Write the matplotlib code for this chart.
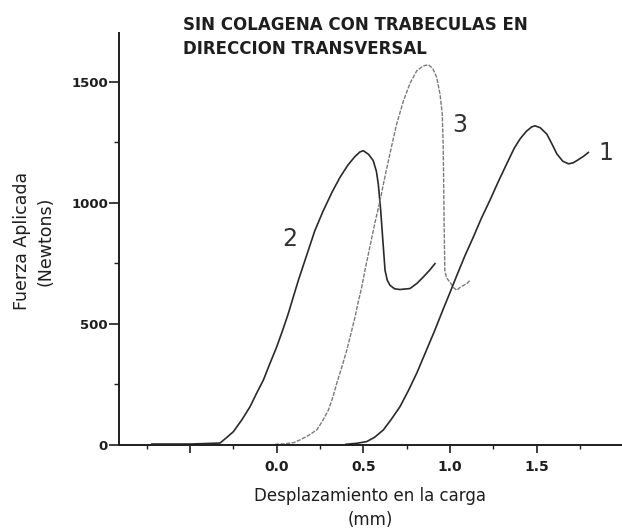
import matplotlib
matplotlib.use("Agg")
import matplotlib.pyplot as plt
import numpy as np

# curve 1 (solid, right)
x1 = [0.40, 0.462, 0.519, 0.565, 0.615, 0.66, 0.711, 0.76, 0.81, 0.86, 0.91, 0.96, 1.0, 1.039,
      1.085, 1.134, 1.18, 1.231, 1.28, 1.327, 1.37, 1.404, 1.44, 1.47, 1.49, 1.52, 1.558, 1.59,
      1.616, 1.65, 1.683, 1.71, 1.731, 1.77, 1.798]
y1 = [3, 7, 14, 32, 62, 105, 158, 225, 300, 385, 470, 560, 630, 700,
      780, 858, 935, 1012, 1090, 1161, 1225, 1264, 1295, 1313, 1318, 1310, 1284, 1240,
      1202, 1172, 1161, 1165, 1174, 1192, 1208]

# curve 2 (solid, left)
x2 = [-0.721, -0.50, -0.327, -0.29, -0.25, -0.20, -0.154, -0.115, -0.077, -0.04, 0.0, 0.035,
      0.067, 0.096, 0.125, 0.155, 0.182, 0.22, 0.269, 0.32, 0.365, 0.41, 0.45, 0.48, 0.50, 0.53,
      0.557, 0.575, 0.586, 0.600, 0.611, 0.625, 0.638, 0.654, 0.68, 0.711, 0.769, 0.81, 0.846,
      0.88, 0.913]
y2 = [4, 4, 8, 30, 55, 105, 158, 215, 268, 335, 405, 475,
      543, 612, 680, 745, 803, 885, 968, 1045, 1105, 1155, 1190, 1210, 1215, 1200,
      1174, 1130, 1078, 968, 858, 721, 680, 659, 645, 642, 646, 668, 694,
      720, 749]

# curve 3 (light, middle)
x3 = [-0.01, 0.05, 0.10, 0.134, 0.18, 0.231, 0.265, 0.298, 0.325, 0.346, 0.375, 0.404, 0.43,
      0.452, 0.47, 0.490, 0.51, 0.538, 0.566, 0.596, 0.625, 0.654, 0.69, 0.731, 0.77, 0.808,
      0.845, 0.875, 0.90, 0.923, 0.942, 0.955, 0.960, 0.963, 0.966, 0.970, 0.98, 1.0, 1.02,
      1.039, 1.06, 1.08, 1.095, 1.115]
y3 = [3, 5, 10, 21, 38, 62, 100, 144, 200, 254, 320, 391, 465,
      529, 590, 650, 725, 820, 915, 1009, 1110, 1205, 1320, 1421, 1495, 1545,
      1565, 1570, 1555, 1518, 1449, 1368, 1250, 1100, 900, 720, 690, 672, 650,
      639, 652, 660, 665, 680]

x_ticks = [-0.5, 0.0, 0.5, 1.0, 1.5]
x_ticklabels = ["", "0.0", "0.5", "1.0", "1.5"]
x_minor = [-0.75, -0.25, 0.25, 0.75, 1.25, 1.75]
y_ticks = [0, 500, 1000, 1500]
y_ticklabels = ["0", "500", "1000", "1500"]
y_minor = [250, 750, 1250]

curve_labels = ["1", "2", "3"]
label_pos = [(1.897, 1205), (0.077, 852), (1.058, 1322)]

ink = "#1e1e1e"

fig = plt.figure(figsize=(6.22, 5.29), dpi=100)
ax = fig.add_axes([0.1921, 0.1588, 0.8079, 0.7783])

ax.plot(x2, y2, color="#2a2a2a", linewidth=1.2)
ax.plot(x3, y3, color="#7a7a7a", linewidth=1.0, linestyle=(0, (3, 1)))
ax.plot(x1, y1, color="#2a2a2a", linewidth=1.2)

for lab, (lx, ly) in zip(curve_labels, label_pos):
    ax.text(lx, ly, lab, fontsize=17, color="#333333", ha="center", va="center")

ax.set_xlim(-0.907, 1.992)
ax.set_ylim(0, 1700)

for s in ["top", "right"]:
    ax.spines[s].set_visible(False)
for s in ["left", "bottom"]:
    ax.spines[s].set_linewidth(1.4)
    ax.spines[s].set_color(ink)

ax.set_xticks(x_ticks)
ax.set_xticklabels(x_ticklabels, fontsize=10, fontweight="bold", color=ink)
ax.set_xticks(x_minor, minor=True)
ax.set_yticks(y_ticks)
ax.set_yticklabels(y_ticklabels, fontsize=9.5, fontweight="bold", color=ink)
ax.set_yticks(y_minor, minor=True)

ax.tick_params(axis="x", which="major", direction="out", length=5.8, width=1.2, pad=5, colors=ink)
ax.tick_params(axis="x", which="minor", direction="out", length=2.9, width=1.0, colors=ink)
ax.tick_params(axis="y", which="major", direction="out", length=7.2, width=1.2, pad=1, colors=ink)
ax.tick_params(axis="y", which="minor", direction="out", length=3.6, width=1.0, colors=ink)

fig.text(183 / 622, 1 - 16 / 529, "SIN COLAGENA CON TRABECULAS EN\nDIRECCION TRANSVERSAL",
         fontsize=12, fontweight="bold", color=ink, ha="left", va="top", linespacing=1.4)

fig.text(370 / 622, 1 - 508 / 529, "Desplazamiento en la carga\n(mm)",
         fontsize=12, color=ink, ha="center", va="center", linespacing=1.4)

fig.text(34 / 622, 1 - 241 / 529, "Fuerza Aplicada\n(Newtons)",
         fontsize=12.5, color=ink, ha="center", va="center", rotation=90, linespacing=1.4)

fig.savefig("out.png", dpi=100)
